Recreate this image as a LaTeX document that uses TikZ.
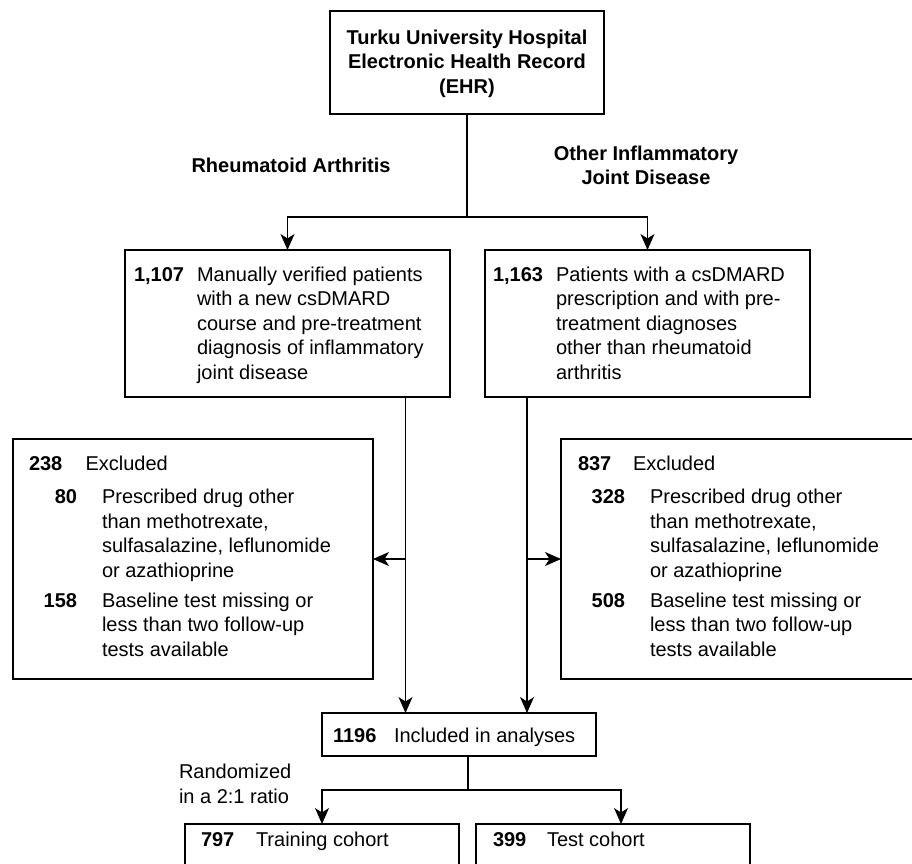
\documentclass[tikz,border=0pt]{standalone}
\usepackage{fontspec}
\setmainfont{Liberation Sans}
\usetikzlibrary{arrows.meta}
\newcommand\fsz{\fontsize{20}{24.6}\selectfont}
\tikzset{
  box/.style={draw, line width=1.2pt, inner sep=0pt, outer sep=0pt, anchor=north west},
  conn/.style={line width=1.1pt},
  arr/.style={line width=1.1pt, -{Stealth[length=16pt,width=14pt,inset=4.5pt]}},
  lbl/.style={inner sep=0pt, outer sep=0pt, font=\fsz},
  ml/.style={inner sep=0pt, outer sep=0pt, font=\fsz, anchor=north west, align=left},
}
\begin{document}
\begin{tikzpicture}[x=1pt,y=-1pt]
\useasboundingbox (0,0) rectangle (912,863);
\clip (0,0) rectangle (912,863);
\fill[white] (0,0) rectangle (912,863);
% boxes
\node[box, minimum width=274pt, minimum height=103pt] (top) at (330,11) {};
\node[box, minimum width=325pt, minimum height=147pt] (L1) at (125,250) {};
\node[box, minimum width=325pt, minimum height=147pt] (R1) at (485,250) {};
\node[box, minimum width=360pt, minimum height=240pt] (LE) at (13,439) {};
\node[box, minimum width=400pt, minimum height=240pt] (RE) at (561,439) {};
\node[box, minimum width=274pt, minimum height=43pt] (Inc) at (322,713) {};
\node[box, minimum width=274pt, minimum height=80pt] (Train) at (185,824) {};
\node[box, minimum width=274pt, minimum height=80pt] (Test) at (476,824) {};
% texts
\node[lbl, anchor=north, align=center] (ttl) at (467,27.1) {\bfseries\strut Turku University Hospital\\ \bfseries Electronic Health Record\\ \bfseries (EHR)};
\node[lbl, anchor=base] (ra) at (291,172) {\bfseries Rheumatoid Arthritis};
\node[lbl, anchor=north, align=center] (oi) at (646,142.8) {\bfseries\strut Other Inflammatory\\ \bfseries Joint Disease};
\node[lbl, anchor=base west] (n1107) at (134,281) {\bfseries 1,107};
\node[ml] (t1107) at (197,263.8) {\strut Manually verified patients\\ with a new csDMARD\\ course and pre-treatment\\ diagnosis of inflammatory\\ joint disease};
\node[lbl, anchor=base west] (n1163) at (493,281) {\bfseries 1,163};
\node[ml] (t1163) at (556,263.8) {\strut Patients with a csDMARD\\ prescription and with pre-\\ treatment diagnoses\\ other than rheumatoid\\ arthritis};
\node[lbl, anchor=base west] (n238) at (29,470) {\bfseries 238};
\node[lbl, anchor=base west] (t238) at (85.5,470) {Excluded};
\node[lbl, anchor=base east] (n80) at (77,503.5) {\bfseries 80};
\node[ml] (t80) at (102,486.3) {\strut Prescribed drug other\\ than methotrexate,\\ sulfasalazine, leflunomide\\ or azathioprine};
\node[lbl, anchor=base east] (n158) at (77,607) {\bfseries 158};
\node[ml] (t158) at (102,589.8) {\strut Baseline test missing or\\ less than two follow-up\\ tests available};
\node[lbl, anchor=base west] (n837) at (578,470) {\bfseries 837};
\node[lbl, anchor=base west] (t837) at (633,470) {Excluded};
\node[lbl, anchor=base east] (n328) at (625,503.5) {\bfseries 328};
\node[ml] (t328) at (650,486.3) {\strut Prescribed drug other\\ than methotrexate,\\ sulfasalazine, leflunomide\\ or azathioprine};
\node[lbl, anchor=base east] (n508) at (625,607) {\bfseries 508};
\node[ml] (t508) at (650,589.8) {\strut Baseline test missing or\\ less than two follow-up\\ tests available};
\node[lbl, anchor=base west] (n1196) at (333,742) {\bfseries 1196};
\node[lbl, anchor=base west] (t1196) at (394,742) {Included in analyses};
\node[ml] (rnd) at (179,761.3) {\strut Randomized\\ in a 2:1 ratio};
\node[lbl, anchor=base west] (n797) at (201,846) {\bfseries 797};
\node[lbl, anchor=base west] (t797) at (256,846) {Training cohort};
\node[lbl, anchor=base west] (n399) at (493,846) {\bfseries 399};
\node[lbl, anchor=base west] (t399) at (547,846) {Test cohort};
% connectors
\coordinate (j1) at (467,217);
\draw[conn] (top.south) -- (j1);
\draw[arr] (j1) -| (L1.north);
\draw[arr] (j1) -| (R1.north);
\coordinate (lt) at (405.5,0);
\coordinate (rt) at (527,0);
\draw[arr] (lt |- L1.south) -- (lt |- Inc.north);
\draw[arr] (rt |- R1.south) -- (rt |- Inc.north);
\draw[arr] (lt |- LE.east) -- (LE.east);
\draw[arr] (rt |- RE.west) -- (RE.west);
\coordinate (j2) at (468,790);
\coordinate (tt) at (621,0);
\draw[conn] (j2 |- Inc.south) -- (j2);
\draw[arr] (j2) -| (Train.north);
\draw[arr] (j2) -| (tt |- Test.north);
\end{tikzpicture}
\end{document}
